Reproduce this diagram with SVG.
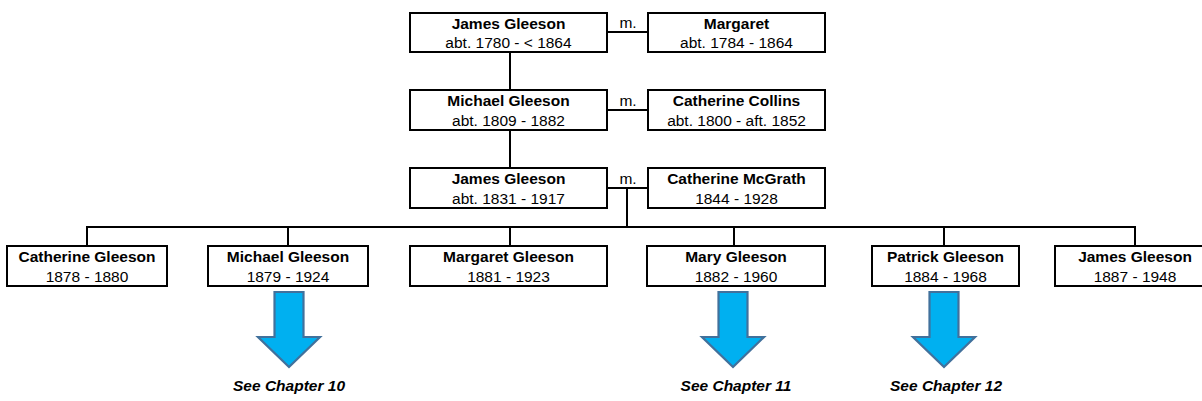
<svg xmlns="http://www.w3.org/2000/svg" width="1202" height="401" viewBox="0 0 1202 401">
<style>
.box{fill:#fff;stroke:#000;stroke-width:2}
.n{font-family:"Liberation Sans",Arial,sans-serif;font-size:15.5px;font-weight:bold;text-anchor:middle;fill:#000}
.d{font-family:"Liberation Sans",Arial,sans-serif;font-size:15.5px;text-anchor:middle;fill:#000}
.m{font-family:"Liberation Sans",Arial,sans-serif;font-size:15.5px;text-anchor:middle;fill:#000}
.ln{stroke:#000;stroke-width:2;fill:none}
.arr{fill:#00B0F0;stroke:#41719C;stroke-width:2.2;stroke-linejoin:miter}
.ch{font-family:"Liberation Sans",Arial,sans-serif;font-size:15.5px;font-weight:bold;font-style:italic;text-anchor:middle;fill:#000}
</style>
<defs>
<path id="arrow" d="M-14.5,0 H14.5 V45 H31 L0,75 L-31,45 H-14.5 Z"/>
</defs>
<g id="connectors">
<line class="ln" x1="607" y1="32" x2="648" y2="32"/>
<line class="ln" x1="607" y1="110" x2="648" y2="110"/>
<line class="ln" x1="607" y1="188" x2="648" y2="188"/>
<line class="ln" x1="510" y1="52" x2="510" y2="90"/>
<line class="ln" x1="510" y1="130" x2="510" y2="168"/>
<line class="ln" x1="627" y1="188" x2="627" y2="227"/>
<line class="ln" x1="86" y1="227" x2="1136" y2="227"/>
<line class="ln" x1="87" y1="227" x2="87" y2="246"/>
<line class="ln" x1="288" y1="227" x2="288" y2="246"/>
<line class="ln" x1="510" y1="227" x2="510" y2="246"/>
<line class="ln" x1="734" y1="227" x2="734" y2="246"/>
<line class="ln" x1="944" y1="227" x2="944" y2="246"/>
<line class="ln" x1="1135" y1="227" x2="1135" y2="246"/>
</g>
<g id="m-labels">
<text class="m" x="628" y="28">m.</text>
<text class="m" x="628" y="106">m.</text>
<text class="m" x="628" y="184">m.</text>
</g>
<g id="james1780">
<rect class="box" x="410" y="13" width="197" height="39"/>
<text class="n" x="508.5" y="29">James Gleeson</text>
<text class="d" x="508.5" y="48">abt. 1780 - &lt; 1864</text>
</g>
<g id="margaret1784">
<rect class="box" x="648" y="13" width="177" height="39"/>
<text class="n" x="736.5" y="29">Margaret</text>
<text class="d" x="736.5" y="48">abt. 1784 - 1864</text>
</g>
<g id="michael1809">
<rect class="box" x="410" y="90" width="197" height="40"/>
<text class="n" x="508.5" y="106">Michael Gleeson</text>
<text class="d" x="508.5" y="126">abt. 1809 - 1882</text>
</g>
<g id="catherine1800">
<rect class="box" x="648" y="90" width="177" height="40"/>
<text class="n" x="736.5" y="106">Catherine Collins</text>
<text class="d" x="736.5" y="126">abt. 1800 - aft. 1852</text>
</g>
<g id="james1831">
<rect class="box" x="410" y="168" width="197" height="40"/>
<text class="n" x="508.5" y="184">James Gleeson</text>
<text class="d" x="508.5" y="204">abt. 1831 - 1917</text>
</g>
<g id="catherine1844">
<rect class="box" x="648" y="168" width="177" height="40"/>
<text class="n" x="736.5" y="184">Catherine McGrath</text>
<text class="d" x="736.5" y="204">1844 - 1928</text>
</g>
<g id="catherine1878">
<rect class="box" x="7" y="246" width="160" height="40"/>
<text class="n" x="87" y="262">Catherine Gleeson</text>
<text class="d" x="87" y="282">1878 - 1880</text>
</g>
<g id="michael1879">
<rect class="box" x="208" y="246" width="160" height="40"/>
<text class="n" x="288" y="262">Michael Gleeson</text>
<text class="d" x="288" y="282">1879 - 1924</text>
</g>
<g id="margaret1881">
<rect class="box" x="410" y="246" width="197" height="40"/>
<text class="n" x="508.5" y="262">Margaret Gleeson</text>
<text class="d" x="508.5" y="282">1881 - 1923</text>
</g>
<g id="mary1882">
<rect class="box" x="647" y="246" width="178" height="40"/>
<text class="n" x="736" y="262">Mary Gleeson</text>
<text class="d" x="736" y="282">1882 - 1960</text>
</g>
<g id="patrick1884">
<rect class="box" x="872" y="246" width="147" height="40"/>
<text class="n" x="945.5" y="262">Patrick Gleeson</text>
<text class="d" x="945.5" y="282">1884 - 1968</text>
</g>
<g id="james1887">
<rect class="box" x="1055" y="246" width="160" height="40"/>
<text class="n" x="1135" y="262">James Gleeson</text>
<text class="d" x="1135" y="282">1887 - 1948</text>
</g>
<g id="see-ch10">
<use href="#arrow" class="arr" transform="translate(289,292)"/>
<text class="ch" x="289" y="391">See Chapter 10</text>
</g>
<g id="see-ch11">
<use href="#arrow" class="arr" transform="translate(733,292)"/>
<text class="ch" x="736" y="391">See Chapter 11</text>
</g>
<g id="see-ch12">
<use href="#arrow" class="arr" transform="translate(944,292)"/>
<text class="ch" x="946" y="391">See Chapter 12</text>
</g>
</svg>
